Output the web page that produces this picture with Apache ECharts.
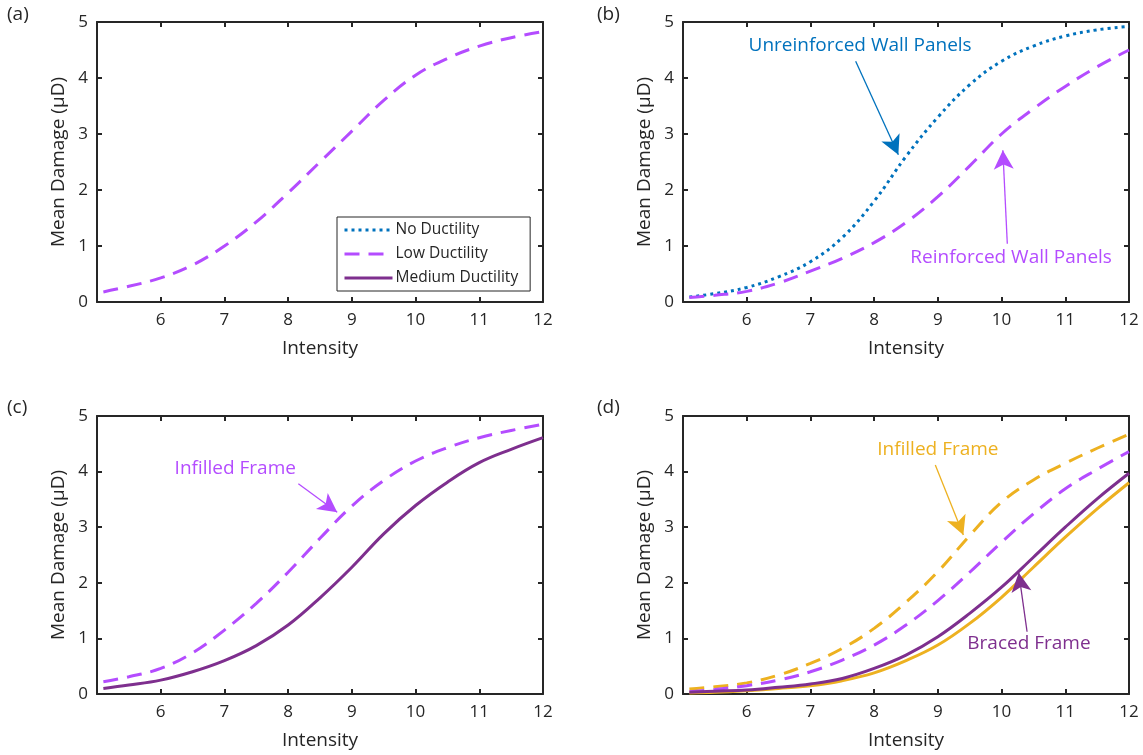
<!DOCTYPE html>
<html>
<head>
<meta charset="utf-8">
<script src="https://cdn.jsdelivr.net/npm/echarts@6/dist/echarts.min.js"></script>
<style>
  html, body { margin: 0; padding: 0; background: #fff; }
  #chart { width: 1143px; height: 755px; }
</style>
</head>
<body>
<div id="chart"></div>
<script>
// Shared intensity samples
const intensity = [5.1, 5.5, 6, 6.5, 7, 7.5, 8, 8.5, 9, 9.5, 10, 10.5, 11, 11.5, 12];

// (a) low ductility
const lowA = [0.18, 0.28, 0.43, 0.66, 1.0, 1.43, 1.95, 2.5, 3.05, 3.6, 4.05, 4.35, 4.57, 4.72, 4.83];
// (b) unreinforced / reinforced wall panels
const noB  = [0.09, 0.15, 0.26, 0.45, 0.72, 1.15, 1.8, 2.6, 3.3, 3.88, 4.3, 4.57, 4.75, 4.86, 4.92];
const lowB = [0.08, 0.12, 0.19, 0.34, 0.55, 0.78, 1.06, 1.42, 1.88, 2.43, 3.0, 3.45, 3.85, 4.2, 4.5];
// (c) infilled frame vs medium ductility
const lowC = [0.22, 0.31, 0.46, 0.74, 1.15, 1.63, 2.19, 2.8, 3.38, 3.84, 4.19, 4.43, 4.61, 4.74, 4.85];
const midC = [0.1, 0.16, 0.25, 0.4, 0.6, 0.87, 1.24, 1.73, 2.28, 2.88, 3.39, 3.81, 4.16, 4.4, 4.61];
// (d) infilled frame and braced frame, two building groups
const lowDOrange = [0.09, 0.13, 0.2, 0.34, 0.55, 0.82, 1.18, 1.65, 2.2, 2.85, 3.45, 3.85, 4.15, 4.42, 4.67];
const lowDPurple = [0.04, 0.08, 0.15, 0.25, 0.4, 0.61, 0.88, 1.24, 1.68, 2.19, 2.73, 3.24, 3.69, 4.04, 4.36];
const midDPurple = [0.03, 0.05, 0.07, 0.12, 0.18, 0.28, 0.46, 0.7, 1.03, 1.45, 1.92, 2.46, 3.0, 3.51, 3.97];
const midDOrange = [0.02, 0.03, 0.06, 0.1, 0.15, 0.24, 0.38, 0.6, 0.88, 1.27, 1.74, 2.28, 2.82, 3.33, 3.8];

const xTicks = [5, 6, 7, 8, 9, 10, 11, 12];
const yTicks = [0, 1, 2, 3, 4, 5];
const panelLabels = ['(a)', '(b)', '(c)', '(d)'];
const legendNames = ['No Ductility', 'Low Ductility', 'Medium Ductility'];

// Annotations: text anchor and arrow (from -> to), in data units
const notes = [
  { panel: 1, text: 'Unreinforced Wall Panels', at: [7.78, 4.57], from: [7.71, 4.3], to: [8.38, 2.63], color: '#0072BD' },
  { panel: 1, text: 'Reinforced Wall Panels', at: [10.15, 0.8], from: [10.09, 1.04], to: [10.02, 2.71], color: '#B44CFF' },
  { panel: 2, text: 'Infilled Frame', at: [7.17, 4.06], from: [8.16, 3.78], to: [8.77, 3.27], color: '#B44CFF' },
  { panel: 3, text: 'Infilled Frame', at: [9.0, 4.39], from: [8.96, 4.12], to: [9.4, 2.86], color: '#EDB120' },
  { panel: 3, text: 'Braced Frame', at: [10.43, 0.9], from: [10.4, 1.12], to: [10.27, 2.18], color: '#7E2F8E' }
];

const FONT = 'Open Sans';
const AX = '#262626';
const BLUE = '#0072BD', PURPLE = '#B44CFF', DARK = '#7E2F8E', ORANGE = '#EDB120';

const grids = [
  { left: 97, top: 22, width: 446, height: 280 },
  { left: 683, top: 22, width: 446, height: 280 },
  { left: 97, top: 416, width: 446, height: 278 },
  { left: 683, top: 416, width: 446, height: 278 }
];

const xAxes = [], yAxes = [];
grids.forEach((g, i) => {
  const common = {
    gridIndex: i, type: 'value', min: xTicks[0], max: xTicks[xTicks.length - 1], interval: 1,
    axisLine: { show: true, onZero: false, lineStyle: { color: AX, width: 2 } },
    axisTick: { show: true, inside: true, length: 5, lineStyle: { color: AX, width: 2 } },
    splitLine: { show: false }
  };
  xAxes.push(Object.assign({}, common, {
    position: 'bottom',
    axisLabel: { show: true, fontFamily: FONT, fontSize: 17, color: AX, margin: 10,
      formatter: v => (v === xTicks[0] ? '' : String(v)) },
    name: 'Intensity', nameLocation: 'middle', nameGap: 37,
    nameTextStyle: { fontFamily: FONT, fontSize: 19, color: AX }
  }));
  xAxes.push(Object.assign({}, common, { position: 'top', axisLabel: { show: false } }));
  const ycommon = {
    gridIndex: i, type: 'value', min: yTicks[0], max: yTicks[yTicks.length - 1], interval: 1,
    axisLine: { show: true, onZero: false, lineStyle: { color: AX, width: 2 } },
    axisTick: { show: true, inside: true, length: 5, lineStyle: { color: AX, width: 2 } },
    splitLine: { show: false }
  };
  yAxes.push(Object.assign({}, ycommon, {
    position: 'left',
    axisLabel: { show: true, fontFamily: FONT, fontSize: 17, color: AX, margin: 9 },
    name: 'Mean Damage (μD)', nameLocation: 'middle', nameGap: 29,
    nameTextStyle: { fontFamily: FONT, fontSize: 19, color: AX }
  }));
  yAxes.push(Object.assign({}, ycommon, { position: 'right', axisLabel: { show: false } }));
});

const DOT = [3, 4];
const DASH = [15, 9];

function curve(name, panel, ys, color, type) {
  return {
    name: name, type: 'line', xAxisIndex: panel * 2, yAxisIndex: panel * 2,
    data: intensity.map((x, k) => [x, ys[k]]),
    smooth: 0.4, symbol: 'none', showSymbol: false,
    lineStyle: { color: color, width: 3, type: type, cap: 'butt' },
    itemStyle: { color: color },
    z: 3, animation: false, silent: true
  };
}

const series = [
  curve('Low Ductility', 0, lowA, PURPLE, DASH),
  curve('No Ductility', 1, noB, BLUE, DOT),
  curve('Low Ductility', 1, lowB, PURPLE, DASH),
  curve('Low Ductility', 2, lowC, PURPLE, DASH),
  curve('Medium Ductility', 2, midC, DARK, 'solid'),
  curve('Infilled frame, low', 3, lowDOrange, ORANGE, DASH),
  curve('Low Ductility', 3, lowDPurple, PURPLE, DASH),
  curve('Braced frame, medium', 3, midDOrange, ORANGE, 'solid'),
  curve('Medium Ductility', 3, midDPurple, DARK, 'solid')
];

// Arrow and label overlays, one carrier series per note
notes.forEach(n => {
  series.push({
    name: 'note-' + n.text, type: 'line', xAxisIndex: n.panel * 2, yAxisIndex: n.panel * 2,
    data: [], silent: true, animation: false, z: 5,
    markLine: {
      silent: true, animation: false,
      symbol: ['none', 'arrow'], symbolSize: [15, 19],
      lineStyle: { color: n.color, width: 1.3, type: 'solid' },
      label: { show: false },
      emphasis: { disabled: true },
      data: [[{ coord: n.from }, { coord: n.to }]]
    },
    markPoint: {
      silent: true, animation: false, symbol: 'circle', symbolSize: 0,
      data: [{ coord: n.at }],
      label: { show: true, position: 'inside', formatter: n.text,
        fontFamily: FONT, fontSize: 19, color: n.color }
    }
  });
});

const chart = echarts.init(document.getElementById('chart'), null, { renderer: 'canvas' });
chart.setOption({
  backgroundColor: '#ffffff',
  animation: false,
  grid: grids,
  xAxis: xAxes,
  yAxis: yAxes,
  legend: {
    data: legendNames,
    left: 337, top: 217, orient: 'vertical',
    itemWidth: 48, itemHeight: 12, itemGap: 8,
    padding: [5, 12, 5, 6],
    backgroundColor: '#ffffff', borderColor: AX, borderWidth: 1,
    itemStyle: { opacity: 0 },
    lineStyle: { width: 3 },
    textStyle: { fontFamily: FONT, fontSize: 15.5, color: AX, padding: [0, 0, 0, -2] },
    selectedMode: false
  },
  graphic: panelLabels.map((t, i) => ({
    type: 'text', left: (i % 2 === 0 ? 7 : 597), top: (i < 2 ? 5 : 398),
    style: { text: t, fontFamily: FONT, fontSize: 19, fill: AX }
  })),
  series: series
});
</script>
</body>
</html>
